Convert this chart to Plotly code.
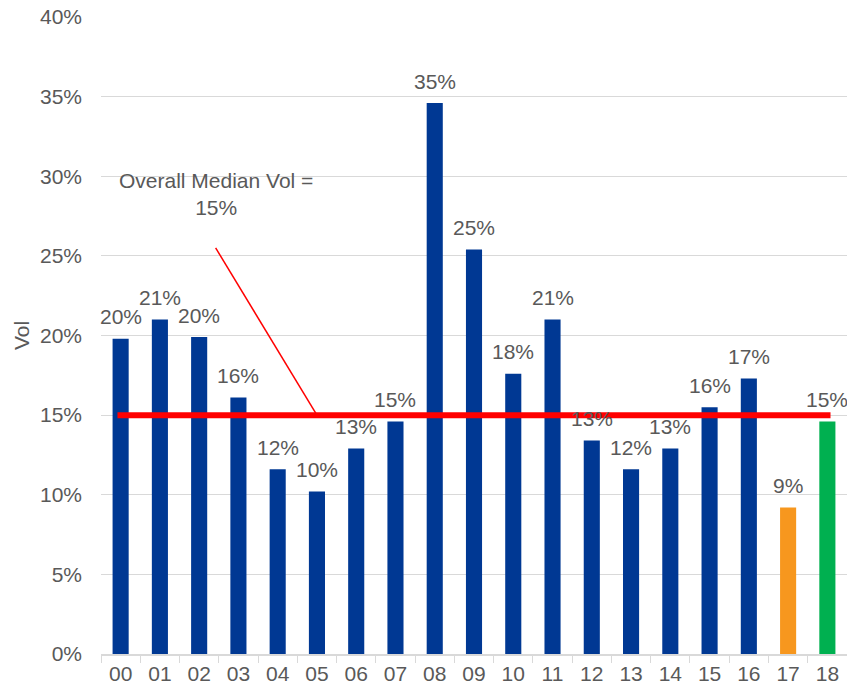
import plotly.graph_objects as go

# Category labels (year codes) and volatility values in percent
categories = ["00", "01", "02", "03", "04", "05", "06", "07", "08", "09",
              "10", "11", "12", "13", "14", "15", "16", "17", "18"]
vol = [19.8, 21.0, 19.9, 16.1, 11.6, 10.2, 12.9, 14.6, 34.6, 25.4,
       17.6, 21.0, 13.4, 11.6, 12.9, 15.5, 17.3, 9.2, 14.6]
bar_colors = ["#003893"] * 17 + ["#F7971E", "#00B050"]
median_vol = 15
y_ticks = [0, 5, 10, 15, 20, 25, 30, 35, 40]
y_tick_text = [f"{t}%" for t in y_ticks]

FONT = "Liberation Sans, Arial, sans-serif"
GREY = "#595959"
FS = 21

fig = go.Figure()
fig.add_trace(go.Bar(
    x=categories, y=vol,
    marker=dict(color=bar_colors, line=dict(width=0)),
    width=0.41,
    hoverinfo="x+y",
))

# Value labels above each bar
for c, v in zip(categories, vol):
    fig.add_annotation(
        x=c, y=v, text=f"{int(v + 0.5)}%", showarrow=False,
        yanchor="middle", yshift=22,
        font=dict(family=FONT, size=FS, color=GREY),
    )

# Median line across all bars
fig.add_shape(
    type="line", xref="x", yref="y",
    x0=-0.08, x1=len(categories) - 1 + 0.08, y0=median_vol, y1=median_vol,
    line=dict(color="#FF0000", width=6),
)

# Callout connector and label
fig.add_shape(
    type="line", xref="x", yref="y",
    x0=2.42, y0=25.5, x1=5.0, y1=median_vol,
    line=dict(color="#FF0000", width=1.5),
)
fig.add_annotation(
    x=2.42, y=28.9, xref="x", yref="y",
    text=f"Overall Median Vol =<br>{median_vol}%", showarrow=False,
    align="center", yanchor="middle",
    font=dict(family=FONT, size=FS, color=GREY),
)

fig.update_layout(
    width=847, height=691,
    margin=dict(l=101, r=0, t=17, b=37, autoexpand=False),
    plot_bgcolor="white", paper_bgcolor="white",
    showlegend=False,
    font=dict(family=FONT, size=FS, color=GREY),
)
fig.update_xaxes(
    type="category", automargin=False,
    range=[-0.5, len(categories) - 0.5],
    showgrid=False,
    showline=True, linecolor="#D9D9D9", linewidth=1.5,
    ticks="outside", tickson="boundaries", ticklen=7, tickcolor="#D9D9D9",
    tickfont=dict(family=FONT, size=FS, color=GREY),
)
fig.update_yaxes(
    range=[0, 40], tickmode="array", tickvals=y_ticks, ticktext=y_tick_text,
    automargin=False,
    showgrid=True, gridcolor="#D9D9D9", gridwidth=1.3,
    zeroline=False, showline=False,
    ticklabelstandoff=18,
    tickfont=dict(family=FONT, size=FS, color=GREY),
    title=dict(text="Vol", font=dict(family=FONT, size=FS, color=GREY), standoff=4),
)

fig.write_html("out.html")
